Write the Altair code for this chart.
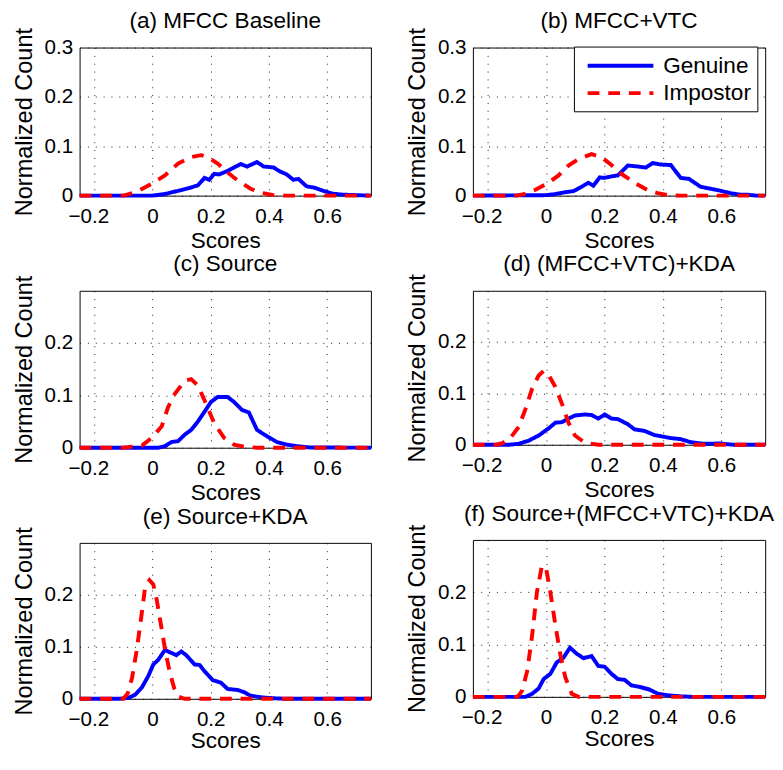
import altair as alt
import pandas as pd

SERIES = ["Genuine", "Impostor"]
COLORS = ["#0000ff", "#ff0000"]
TITLES = ["(a) MFCC Baseline", "(b) MFCC+VTC", "(c) Source",
          "(d) (MFCC+VTC)+KDA", "(e) Source+KDA", "(f) Source+(MFCC+VTC)+KDA"]
X_TICKS = [-0.2, 0, 0.2, 0.4, 0.6]
Y_TICKS_TOP = [0, 0.1, 0.2, 0.3]
Y_TICKS_LOW = [0, 0.1, 0.2]

A_GEN_X = [-0.25, 0.0, 0.04, 0.09, 0.13, 0.156, 0.179, 0.195, 0.212, 0.229, 0.258, 0.28, 0.303, 0.325,
           0.359, 0.382, 0.416, 0.438, 0.461, 0.484, 0.501, 0.529, 0.557, 0.585, 0.619, 0.653, 0.70, 0.75]
A_GEN_Y = [0, 0, 0.003, 0.01, 0.016, 0.021, 0.036, 0.032, 0.044, 0.043, 0.05, 0.057, 0.064, 0.059,
           0.068, 0.059, 0.057, 0.049, 0.043, 0.032, 0.034, 0.019, 0.016, 0.010, 0.004, 0.002, 0.001, 0]
A_IMP_X = [-0.25, -0.1, -0.081, -0.047, -0.002, 0.043, 0.088, 0.133, 0.167, 0.19, 0.224, 0.258, 0.292,
           0.337, 0.371, 0.416, 0.46, 0.75]
A_IMP_Y = [0, 0, 0.003, 0.01, 0.024, 0.041, 0.065, 0.078, 0.082, 0.078, 0.065, 0.047, 0.031,
           0.014, 0.006, 0.001, 0, 0]

B_GEN_X = [-0.25, 0.0, 0.03, 0.066, 0.094, 0.122, 0.145, 0.162, 0.184, 0.201, 0.224, 0.246, 0.28, 0.314,
           0.342, 0.365, 0.393, 0.427, 0.461, 0.489, 0.529, 0.563, 0.597, 0.631, 0.664, 0.687, 0.72, 0.75]
B_GEN_Y = [0, 0.001, 0.003, 0.007, 0.009, 0.018, 0.026, 0.02, 0.037, 0.036, 0.039, 0.041, 0.061, 0.059,
           0.057, 0.066, 0.063, 0.062, 0.036, 0.034, 0.018, 0.014, 0.01, 0.005, 0.002, 0.002, 0, 0]
B_IMP_X = [-0.25, -0.1, -0.076, -0.036, 0.003, 0.043, 0.077, 0.111, 0.156, 0.19, 0.224, 0.258, 0.303,
           0.348, 0.382, 0.416, 0.46, 0.75]
B_IMP_Y = [0, 0, 0.003, 0.012, 0.024, 0.041, 0.061, 0.074, 0.084, 0.078, 0.062, 0.044, 0.026,
           0.011, 0.005, 0.001, 0, 0]

C_GEN_X = [-0.25, 0.02, 0.043, 0.066, 0.088, 0.111, 0.133, 0.156, 0.179, 0.201, 0.224, 0.258, 0.28,
           0.308, 0.331, 0.359, 0.393, 0.427, 0.461, 0.495, 0.54, 0.75]
C_GEN_Y = [0, 0, 0.003, 0.011, 0.0125, 0.025, 0.034, 0.05, 0.069, 0.0875, 0.097, 0.097, 0.0875,
           0.072, 0.0675, 0.034, 0.022, 0.011, 0.006, 0.003, 0.0005, 0]
C_IMP_X = [-0.25, -0.1, -0.07, -0.036, -0.002, 0.032, 0.054, 0.077, 0.111, 0.133, 0.156, 0.184, 0.212,
           0.246, 0.28, 0.314, 0.36, 0.75]
C_IMP_Y = [0, 0, 0.002, 0.004, 0.019, 0.041, 0.078, 0.103, 0.128, 0.131, 0.119, 0.084, 0.047,
           0.019, 0.006, 0.002, 0, 0]

D_GEN_X = [-0.25, -0.127, -0.093, -0.059, -0.025, 0.009, 0.032, 0.054, 0.077, 0.099, 0.133, 0.156,
           0.179, 0.201, 0.224, 0.246, 0.28, 0.303, 0.337, 0.371, 0.399, 0.427, 0.461, 0.495, 0.54,
           0.597, 0.642, 0.75]
D_GEN_Y = [0, 0, 0.002, 0.008, 0.018, 0.032, 0.043, 0.044, 0.051, 0.057, 0.059, 0.058,
           0.051, 0.059, 0.051, 0.05, 0.04, 0.03, 0.027, 0.019, 0.016, 0.013, 0.011, 0.005, 0.002,
           0.0025, 0, 0]
D_IMP_X = [-0.25, -0.17, -0.149, -0.121, -0.093, -0.07, -0.047, -0.025, -0.008, 0.009, 0.032, 0.054,
           0.077, 0.099, 0.133, 0.179, 0.75]
D_IMP_Y = [0, 0, 0.003, 0.014, 0.035, 0.07, 0.11, 0.135, 0.144, 0.136, 0.113, 0.081,
           0.043, 0.018, 0.004, 0, 0]

E_GEN_X = [-0.25, -0.115, -0.081, -0.059, -0.036, -0.014, 0.003, 0.02, 0.043, 0.066, 0.082, 0.099,
           0.116, 0.145, 0.162, 0.179, 0.207, 0.235, 0.258, 0.292, 0.314, 0.337, 0.371, 0.416, 0.46, 0.75]
E_GEN_Y = [0, 0, 0.002, 0.008, 0.022, 0.044, 0.066, 0.075, 0.094, 0.088, 0.084, 0.091,
           0.084, 0.066, 0.065, 0.053, 0.036, 0.031, 0.019, 0.017, 0.013, 0.006, 0.003, 0.001, 0, 0]
E_IMP_X = [-0.25, -0.1, -0.085, -0.07, -0.055, -0.04, -0.025, -0.01, 0.003, 0.015, 0.03, 0.045,
           0.06, 0.075, 0.09, 0.11, 0.75]
E_IMP_Y = [0, 0, 0.01, 0.04, 0.09, 0.15, 0.215, 0.228, 0.22, 0.19, 0.14, 0.09,
           0.05, 0.02, 0.004, 0, 0]

F_GEN_X = [-0.25, -0.07, -0.047, -0.025, -0.008, 0.015, 0.037, 0.06, 0.082, 0.105, 0.128, 0.156,
           0.179, 0.201, 0.224, 0.246, 0.269, 0.292, 0.32, 0.354, 0.382, 0.416, 0.461, 0.5, 0.75]
F_GEN_Y = [0, 0, 0.006, 0.016, 0.034, 0.044, 0.066, 0.075, 0.094, 0.0825, 0.074, 0.078,
           0.059, 0.0575, 0.044, 0.034, 0.0325, 0.022, 0.019, 0.014, 0.006, 0.003, 0.001, 0, 0]
F_IMP_X = [-0.25, -0.1, -0.093, -0.081, -0.064, -0.047, -0.031, -0.014, 0.0, 0.015, 0.032, 0.049,
           0.066, 0.088, 0.111, 0.75]
F_IMP_Y = [0, 0, 0.003, 0.0125, 0.05, 0.119, 0.2, 0.25, 0.247, 0.2, 0.1375, 0.081,
           0.0375, 0.006, 0, 0]

FONT = "Liberation Sans"


def panel(title, gx, gy, ix, iy, width, height, yticks, toff, xtitle_pad=4, legend=False):
    df = pd.DataFrame({
        "score": gx + ix,
        "count": gy + iy,
        "series": [SERIES[0]] * len(gx) + [SERIES[1]] * len(ix),
    })
    lab = "datum.value == 0 ? '0' : format(datum.value, '.1f')"
    if legend:
        leg = alt.Legend(title=None, orient="none", legendX=103, legendY=-1,
                         symbolType="M-3,0L3,0", symbolSize=499, symbolStrokeWidth=4,
                         symbolOffset=28, labelFontSize=23, labelFont=FONT, labelColor="black",
                         labelOffset=30, rowPadding=2, padding=6, strokeColor="black",
                         fillColor="white", cornerRadius=0, labelLimit=300)
    else:
        leg = None
    ttl = alt.TitleParams(title, offset=toff)
    return alt.Chart(df, title=ttl).mark_line(strokeWidth=4, clip=False).encode(
        x=alt.X("score:Q", title="Scores",
                scale=alt.Scale(domain=[-0.25, 0.75], nice=False, zero=False),
                axis=alt.Axis(values=X_TICKS, labelExpr=lab, labelPadding=10,
                              titlePadding=xtitle_pad,
                              labelOffset={"condition": {"test": "datum.value < 0", "value": -6},
                                           "value": 0})),
        y=alt.Y("count:Q", title="Normalized Count",
                scale=alt.Scale(domain=[0, 0.3], nice=False),
                axis=alt.Axis(values=yticks, labelExpr=lab, labelPadding=7, titlePadding=8,
                              titleFontSize=24)),
        color=alt.Color("series:N", scale=alt.Scale(domain=SERIES, range=COLORS), legend=leg),
        strokeDash=alt.StrokeDash("series:N",
                                  scale=alt.Scale(domain=SERIES, range=[[1, 0], [12, 9]]),
                                  legend=leg),
    ).properties(width=width, height=height)


pa = panel(TITLES[0], A_GEN_X, A_GEN_Y, A_IMP_X, A_IMP_Y, 297, 151, Y_TICKS_TOP, -5.5)
pb = panel(TITLES[1], B_GEN_X, B_GEN_Y, B_IMP_X, B_IMP_Y, 298, 151, Y_TICKS_TOP, -5.5, legend=True)
pc = panel(TITLES[2], C_GEN_X, C_GEN_Y, C_IMP_X, C_IMP_Y, 297, 160, Y_TICKS_LOW, -1)
pd_ = panel(TITLES[3], D_GEN_X, D_GEN_Y, D_IMP_X, D_IMP_Y, 298, 157, Y_TICKS_LOW, -2.5)
pe = panel(TITLES[4], E_GEN_X, E_GEN_Y, E_IMP_X, E_IMP_Y, 297, 159, Y_TICKS_LOW, -2, xtitle_pad=1)
pf = panel(TITLES[5], F_GEN_X, F_GEN_Y, F_IMP_X, F_IMP_Y, 298, 160, Y_TICKS_LOW, -1.5, xtitle_pad=1)

ind = dict(color="independent", strokeDash="independent")

left = alt.vconcat(pa, pc, pe, spacing=97, bounds="flush").resolve_scale(**ind).resolve_legend(**ind)
right = alt.vconcat(pb, pd_, pf, spacing=97, bounds="flush").resolve_scale(**ind).resolve_legend(**ind)

chart = alt.hconcat(left, right, spacing=26).resolve_scale(**ind).resolve_legend(**ind).properties(
    padding={"left": 4, "top": -6, "right": 0, "bottom": -5}
).configure(font=FONT).configure_view(
    stroke="black", strokeWidth=1
).configure_axis(
    domain=False, ticks=False, labelFontSize=21, titleFontSize=23, titleFontWeight="normal",
    labelColor="black", titleColor="black", labelFont=FONT, titleFont=FONT,
    grid=True, gridColor="black", gridDash=[1, 7], gridWidth=1, gridOpacity=0.9,
).configure_title(
    fontSize=23, fontWeight="normal", color="black", font=FONT, baseline="alphabetic"
)

chart.save("out.html", embed_options={"renderer": "svg", "actions": False})
